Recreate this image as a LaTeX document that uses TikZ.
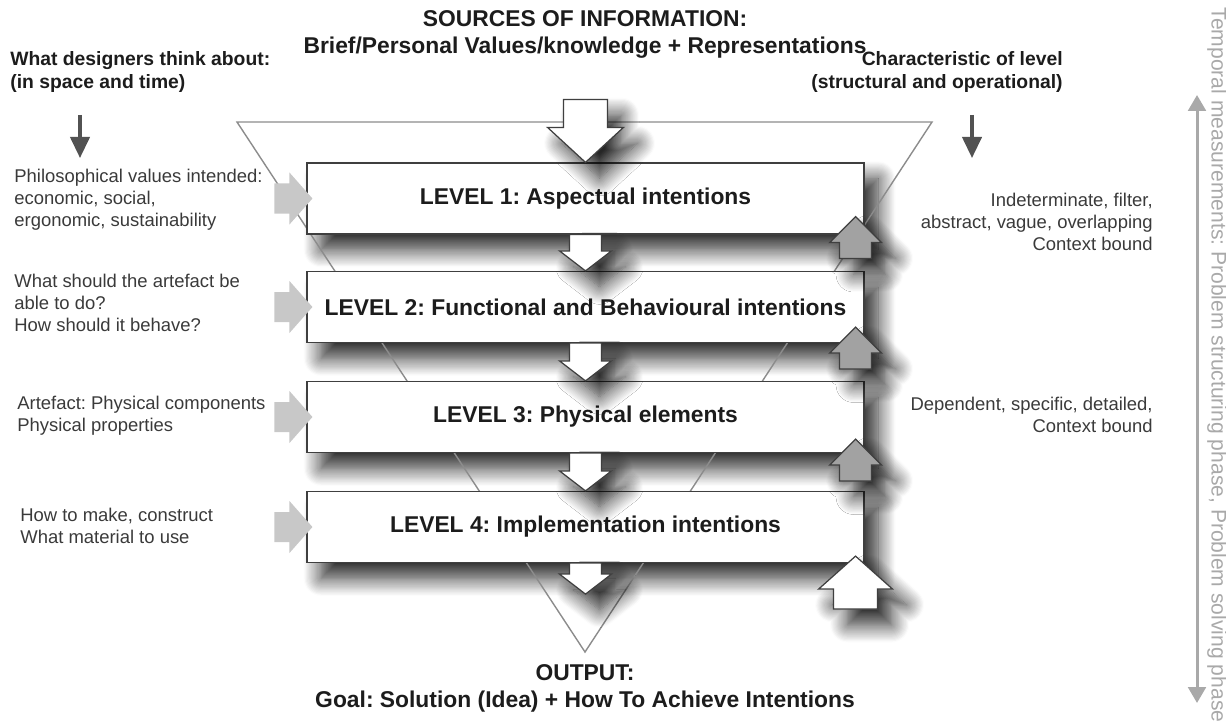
\documentclass[tikz,border=0pt]{standalone}
\usepackage{fontspec}
\setmainfont{Liberation Sans}
\usetikzlibrary{calc,arrows.meta,shadows.blur}
\frenchspacing

\definecolor{inkdark}{HTML}{1C1C1C}
\definecolor{inkgrey}{HTML}{3A3A3A}
\definecolor{framegrey}{HTML}{3F3F3F}
\definecolor{conegrey}{HTML}{8C8C8C}
\definecolor{feedgrey}{HTML}{A2A2A2}
\definecolor{inputgrey}{HTML}{C8C8C8}
\definecolor{phasegrey}{HTML}{A9A9A9}

\tikzset{
  softshadow/.style={blur shadow={shadow xshift=8pt, shadow yshift=-9pt,
      shadow blur radius=10pt, shadow blur steps=16, shadow opacity=85}},
  levelbase/.style={minimum width=11.14cm, minimum height=1.42cm, inner sep=0pt},
  levelshade/.style={levelbase, fill=white, softshadow},
  levelbox/.style={levelbase, draw=framegrey, line width=0.7pt, fill=white,
      text=inkdark, font=\fontsize{13}{15}\selectfont\bfseries},
  flowarrow/.style={draw=framegrey, line width=0.7pt, fill=white, softshadow},
  feedarrow/.style={flowarrow, fill=feedgrey},
  inputarrow/.style={fill=inputgrey},
  sidenote/.style={inner sep=0pt, text=inkgrey, font=\fontsize{10.5}{12.5}\selectfont},
  headnote/.style={inner sep=0pt, text=inkdark, font=\fontsize{11}{13.6}\selectfont\bfseries},
  bignote/.style={inner sep=0pt, align=center, text=inkdark, font=\fontsize{13}{15.4}\selectfont\bfseries},
  headarrow/.style={draw=black!68, line width=1.9pt, -{Triangle[length=12pt,width=11pt]}},
  phasearrow/.style={draw=phasegrey, line width=1.7pt,
      {Triangle[length=9pt,width=10pt]}-{Triangle[length=9pt,width=10pt]}},
}

\begin{document}
\begin{tikzpicture}[x=0.02cm, y=0.02cm]
\useasboundingbox (0,0) rectangle (1226,-726);

% sources and output
\node[bignote] (src) at (585,-34) {SOURCES OF INFORMATION:\\Brief/Personal Values/knowledge + Representations};
\node[bignote] (out) at (585,-688) {OUTPUT:\\Goal: Solution (Idea) + How To Achieve Intentions};

% column heads
\node[headnote, anchor=west, align=left] (think) at (10,-72) {What designers think about:\\(in space and time)};
\node[headnote, anchor=east, align=right] (charac) at (1063,-72) {Characteristic of level\\(structural and operational)};
\coordinate (thinkA) at (80,-115);
\coordinate (thinkB) at (80,-158);
\draw[headarrow] (thinkA) -- (thinkB);
\coordinate (characA) at (972,-115);
\coordinate (characB) at (972,-158);
\draw[headarrow] (characA) -- (characB);

% what designers think about
\node[sidenote, anchor=west, align=left] (phil) at (14,-200) {Philosophical values intended:\\economic, social,\\ergonomic, sustainability};
\node[sidenote, anchor=west, align=left] (able) at (14,-303) {What should the artefact be\\able to do?\\How should it behave?};
\node[sidenote, anchor=west, align=left] (artf) at (17,-416) {Artefact: Physical components\\Physical properties};
\node[sidenote, anchor=west, align=left] (make) at (20,-526) {How to make, construct\\What material to use};

% characteristics
\node[sidenote, anchor=east, align=right] (indet) at (1153,-222) {Indeterminate, filter,\\abstract, vague, overlapping\\Context bound};
\node[sidenote, anchor=east, align=right] (dep) at (1153,-415) {Dependent, specific, detailed,\\Context bound};

% phases
\coordinate (phaseA) at (1197,-95);
\coordinate (phaseB) at (1197,-703);
\draw[phasearrow] (phaseA) -- (phaseB);
\node[rotate=-90, inner sep=0pt, text=phasegrey, font=\fontsize{12}{14}\selectfont] (phase) at (1217,-365)
  {Temporal measurements: Problem structuring phase, Problem solving phase};

% shadows of the levels
\node[levelshade] (s1) at (585.5,-198.5) {};
\node[levelshade] (s2) at (585.5,-307) {};
\node[levelshade] (s3) at (585.5,-417) {};
\node[levelshade] (s4) at (585.5,-527) {};

% funnel
\draw[conegrey, line width=0.8pt] (237,-122) -- (932,-122) -- (585,-652) -- cycle;

% levels
\node[levelbox] (l1) at (s1) {LEVEL 1: Aspectual intentions};
\node[levelbox] (l2) at (s2) {LEVEL 2: Functional and Behavioural intentions};
\node[levelbox] (l3) at (s3) {LEVEL 3: Physical elements};
\node[levelbox] (l4) at (s4) {LEVEL 4: Implementation intentions};

% downward flow
\draw[flowarrow] (l1.north) -- ++(38,35) -- ++(-16,0) -- ++(0,28) -- ++(-44,0) -- ++(0,-28) -- ++(-16,0) -- cycle;
\draw[flowarrow] (l2.north) -- ++(26,20) -- ++(-10,0) -- ($(l1.south)+(16,0)$) -- ($(l1.south)+(-16,0)$) -- ($(l2.north)+(-16,20)$) -- ++(-10,0) -- cycle;
\draw[flowarrow] (l3.north) -- ++(26,20) -- ++(-10,0) -- ($(l2.south)+(16,0)$) -- ($(l2.south)+(-16,0)$) -- ($(l3.north)+(-16,20)$) -- ++(-10,0) -- cycle;
\draw[flowarrow] (l4.north) -- ++(26,20) -- ++(-10,0) -- ($(l3.south)+(16,0)$) -- ($(l3.south)+(-16,0)$) -- ($(l4.north)+(-16,20)$) -- ++(-10,0) -- cycle;
\draw[flowarrow] ($(l4.south)+(0,-31)$) -- ++(26,20) -- ++(-10,0) -- ($(l4.south)+(16,0)$) -- ($(l4.south)+(-16,0)$) -- ($(l4.south)+(-16,-11)$) -- ++(-10,0) -- cycle;

% upward feedback
\draw[feedarrow] ($(l1.south east)+(-9,18)$) -- ++(26,-26) -- ++(-10,0) -- ++(0,-16) -- ++(-32,0) -- ++(0,16) -- ++(-10,0) -- cycle;
\draw[feedarrow] ($(l2.south east)+(-9,16)$) -- ++(26,-26) -- ++(-10,0) -- ++(0,-16) -- ++(-32,0) -- ++(0,16) -- ++(-10,0) -- cycle;
\draw[feedarrow] ($(l3.south east)+(-9,14)$) -- ++(26,-26) -- ++(-10,0) -- ++(0,-16) -- ++(-32,0) -- ++(0,16) -- ++(-10,0) -- cycle;
\draw[flowarrow] ($(l4.south east)+(-9,7)$) -- ++(37,-33) -- ++(-15,0) -- ++(0,-20) -- ++(-44,0) -- ++(0,20) -- ++(-15,0) -- cycle;

% inputs
\fill[inputarrow] ($(l1.west)+(6,0)$) -- ++(-23,26) -- ++(0,-11) -- ++(-15,0) -- ++(0,-30) -- ++(15,0) -- ++(0,-11) -- cycle;
\fill[inputarrow] ($(l2.west)+(6,0)$) -- ++(-23,26) -- ++(0,-11) -- ++(-15,0) -- ++(0,-30) -- ++(15,0) -- ++(0,-11) -- cycle;
\fill[inputarrow] ($(l3.west)+(6,0)$) -- ++(-23,26) -- ++(0,-11) -- ++(-15,0) -- ++(0,-30) -- ++(15,0) -- ++(0,-11) -- cycle;
\fill[inputarrow] ($(l4.west)+(6,0)$) -- ++(-23,26) -- ++(0,-11) -- ++(-15,0) -- ++(0,-30) -- ++(15,0) -- ++(0,-11) -- cycle;
\end{tikzpicture}
\end{document}
